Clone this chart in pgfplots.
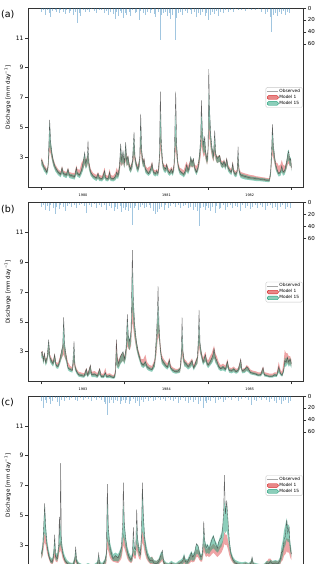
\documentclass[border=0pt]{standalone}
\usepackage{fontspec}
\setmainfont{DejaVu Sans}
\usepackage{pgfplots}
\usepackage{pgfplotstable}
\pgfplotsset{compat=1.18}
\usepgfplotslibrary{fillbetween}

\definecolor{obsline}{RGB}{60,60,60}
\definecolor{mone}{RGB}{214,39,40}
\definecolor{mfif}{RGB}{27,158,119}
\definecolor{rain}{RGB}{31,119,180}

% columns: t = decimal year, o = observed discharge,
% a/b = Model 1 range (low/high), c/d = Model 15 range (low/high)
\pgfplotstableread{
t o a b c d
1980.000 2.80 2.55 2.95 2.45 2.90
1980.016 2.60 2.40 2.80 2.30 2.70
1980.032 2.30 2.15 2.50 2.05 2.40
1980.048 2.20 2.05 2.40 1.95 2.30
1980.064 2.00 1.90 2.20 1.80 2.10
1980.080 2.30 2.10 2.50 2.00 2.45
1980.100 5.50 3.40 4.20 3.80 5.40
1980.112 4.00 3.20 3.80 3.40 4.10
1980.128 3.20 2.80 3.30 2.80 3.40
1980.144 2.70 2.45 2.90 2.40 2.85
1980.168 2.30 2.15 2.50 2.05 2.40
1980.200 2.00 1.90 2.20 1.80 2.10
1980.232 1.85 1.75 2.05 1.65 1.95
1980.248 2.30 1.95 2.40 1.90 2.35
1980.264 1.90 1.80 2.10 1.70 2.00
1980.300 1.80 1.70 2.00 1.60 1.90
1980.320 2.20 1.85 2.30 1.80 2.25
1980.336 1.80 1.70 2.00 1.60 1.90
1980.368 1.75 1.65 1.95 1.55 1.85
1980.400 1.70 1.60 1.95 1.50 1.80
1980.420 2.30 1.90 2.45 1.85 2.35
1980.432 1.90 1.80 2.20 1.70 2.00
1980.460 1.80 1.70 2.15 1.60 1.90
1980.480 2.10 1.95 2.60 1.80 2.20
1980.500 2.60 2.20 2.80 2.10 2.70
1980.520 3.30 2.50 3.00 2.60 3.30
1980.532 2.60 2.30 2.80 2.20 2.70
1980.548 2.90 2.40 3.00 2.35 2.95
1980.560 4.10 2.60 3.20 2.70 3.50
1980.572 2.60 2.20 2.70 2.15 2.60
1980.592 2.00 1.85 2.20 1.75 2.05
1980.620 1.75 1.65 1.95 1.55 1.80
1980.660 1.60 1.50 1.80 1.40 1.65
1980.680 1.90 1.60 2.00 1.55 1.95
1980.696 1.60 1.50 1.80 1.40 1.65
1980.728 1.55 1.45 1.75 1.38 1.60
1980.760 2.10 1.70 2.30 1.60 2.10
1980.772 1.60 1.50 1.80 1.40 1.65
1980.800 1.55 1.45 1.75 1.38 1.60
1980.820 2.00 1.60 2.20 1.55 2.00
1980.832 1.60 1.50 1.80 1.40 1.65
1980.864 1.55 1.45 1.75 1.38 1.60
1980.888 1.70 1.55 1.95 1.45 1.75
1980.904 2.00 1.70 2.30 1.60 2.05
1980.920 1.80 1.65 2.05 1.55 1.85
1980.936 2.30 1.90 2.50 1.85 2.40
1980.952 3.90 2.60 3.40 2.80 3.80
1980.964 2.80 2.40 3.00 2.40 2.90
1980.980 3.40 2.60 3.20 2.70 3.40
1980.996 2.60 2.30 2.80 2.25 2.70
1981.012 4.00 2.80 3.60 3.00 3.90
1981.024 2.80 2.40 3.00 2.40 2.90
1981.040 3.05 2.50 3.10 2.55 3.10
1981.056 2.40 2.15 2.60 2.10 2.50
1981.072 2.20 2.00 2.40 1.95 2.30
1981.092 2.70 2.30 2.80 2.25 2.75
1981.112 4.70 3.00 3.90 3.30 4.50
1981.124 3.00 2.60 3.10 2.60 3.10
1981.144 2.40 2.20 2.60 2.10 2.50
1981.160 2.20 2.05 2.45 1.95 2.30
1981.180 3.00 2.40 3.00 2.40 2.95
1981.192 5.90 3.40 4.40 3.80 5.40
1981.204 3.50 2.80 3.40 2.90 3.50
1981.220 2.60 2.35 2.80 2.30 2.70
1981.232 2.90 2.45 2.95 2.40 2.90
1981.248 2.20 2.05 2.45 1.95 2.30
1981.272 2.00 1.90 2.25 1.80 2.10
1981.288 1.90 1.85 2.35 1.75 2.00
1981.312 2.20 2.00 2.40 1.90 2.25
1981.328 2.60 2.20 2.70 2.15 2.60
1981.344 2.00 1.90 2.20 1.80 2.10
1981.368 1.90 1.80 2.10 1.70 1.95
1981.384 2.10 1.90 2.20 1.80 2.10
1981.400 1.90 1.80 2.10 1.70 1.95
1981.416 3.00 2.30 2.90 2.40 3.00
1981.428 7.40 3.60 4.80 4.20 6.20
1981.440 4.00 3.00 3.70 3.10 3.90
1981.456 2.60 2.30 2.70 2.25 2.65
1981.472 2.30 2.10 2.50 2.00 2.35
1981.492 2.20 2.05 2.45 1.95 2.30
1981.504 2.50 2.20 2.60 2.10 2.55
1981.520 2.10 1.95 2.30 1.85 2.15
1981.540 1.95 1.85 2.15 1.75 2.00
1981.560 2.20 1.95 2.35 1.90 2.25
1981.576 1.95 1.85 2.15 1.75 2.00
1981.592 2.50 2.10 2.60 2.05 2.50
1981.612 7.40 3.50 4.60 4.00 6.00
1981.624 3.80 2.90 3.60 3.00 3.80
1981.640 2.50 2.25 2.70 2.20 2.55
1981.660 2.10 1.95 2.30 1.85 2.15
1981.688 1.95 1.85 2.20 1.75 2.00
1981.708 1.85 1.75 2.10 1.65 1.90
1981.728 2.10 1.90 2.50 1.80 2.15
1981.744 2.50 2.10 2.70 2.05 2.50
1981.760 2.10 1.95 2.40 1.85 2.15
1981.780 2.50 2.20 2.70 2.15 2.55
1981.792 3.00 2.40 2.90 2.50 3.05
1981.808 2.60 2.30 2.75 2.30 2.70
1981.824 2.90 2.40 2.90 2.45 2.95
1981.840 2.30 2.10 2.50 2.05 2.35
1981.860 2.00 1.90 2.40 1.80 2.10
1981.880 2.30 2.10 2.60 2.05 2.40
1981.900 3.30 2.60 3.30 2.80 3.50
1981.912 4.50 3.10 3.90 3.40 4.40
1981.920 6.80 3.80 5.00 4.50 6.10
1981.932 4.80 3.40 4.30 3.70 4.80
1981.948 3.80 3.00 3.70 3.20 3.90
1981.960 4.40 3.20 4.00 3.40 4.30
1981.972 3.30 2.80 3.40 2.90 3.40
1981.988 2.80 2.50 3.00 2.50 2.90
1982.000 3.60 2.80 3.50 2.90 3.60
1982.008 8.90 4.20 5.60 5.00 7.30
1982.020 6.00 4.20 5.30 4.70 6.20
1982.032 4.50 3.50 4.30 3.70 4.60
1982.048 3.60 3.00 3.60 3.10 3.70
1982.064 3.10 2.70 3.20 2.75 3.20
1982.080 4.80 3.20 4.00 3.50 4.50
1982.092 3.20 2.80 3.30 2.85 3.30
1982.108 2.90 2.60 3.05 2.60 3.00
1982.124 3.00 2.65 3.10 2.65 3.05
1982.140 3.10 2.70 3.15 2.70 3.15
1982.156 2.60 2.40 2.80 2.35 2.70
1982.176 2.50 2.30 2.70 2.25 2.60
1982.192 2.70 2.40 2.85 2.40 2.80
1982.208 2.40 2.25 2.60 2.15 2.50
1982.224 2.90 2.45 2.95 2.45 2.90
1982.240 2.30 2.15 2.50 2.05 2.40
1982.260 2.10 2.00 2.30 1.90 2.20
1982.280 2.00 1.90 2.20 1.80 2.10
1982.296 2.60 2.20 2.70 2.20 2.60
1982.308 2.00 1.90 2.20 1.80 2.10
1982.328 1.85 1.75 2.05 1.65 1.95
1982.348 2.00 1.85 2.15 1.75 2.05
1982.360 3.70 2.40 3.00 2.50 3.30
1982.372 2.10 1.95 2.30 1.85 2.20
1982.392 1.80 1.70 2.00 1.60 1.90
1982.420 1.75 1.65 1.95 1.55 1.85
1982.448 1.70 1.60 1.90 1.50 1.80
1982.480 1.65 1.55 1.85 1.48 1.75
1982.512 1.60 1.52 1.80 1.45 1.70
1982.544 1.60 1.50 1.78 1.43 1.68
1982.576 1.55 1.48 1.72 1.40 1.65
1982.608 1.55 1.46 1.70 1.40 1.62
1982.640 1.50 1.44 1.66 1.38 1.60
1982.672 1.50 1.42 1.64 1.36 1.58
1982.704 1.45 1.40 1.60 1.34 1.55
1982.736 1.45 1.38 1.58 1.32 1.52
1982.752 2.20 1.70 2.10 1.75 2.20
1982.764 3.80 2.60 3.30 2.80 3.70
1982.772 5.20 3.20 4.20 3.70 4.90
1982.784 3.80 2.90 3.60 3.10 3.80
1982.800 3.00 2.50 3.00 2.55 3.00
1982.812 2.50 2.20 2.65 2.15 2.50
1982.832 2.10 1.95 2.60 1.85 2.15
1982.848 1.90 1.85 2.40 1.70 1.95
1982.868 2.00 1.90 2.50 1.75 2.05
1982.884 2.40 2.10 2.80 2.00 2.45
1982.900 2.00 1.90 2.50 1.75 2.05
1982.920 2.10 1.95 2.40 1.85 2.20
1982.940 2.60 2.20 2.70 2.20 2.70
1982.956 3.20 2.50 3.10 2.70 3.40
1982.968 3.40 2.60 3.20 2.80 3.50
1982.980 2.80 2.40 2.90 2.40 2.90
1982.992 2.90 2.40 2.80 2.40 3.00
1983.000 2.30 2.10 2.50 2.05 2.40
}\qA

\pgfplotstableread{
t o a b c d
1983.000 2.90 2.70 3.00 2.55 2.95
1983.012 3.00 2.70 3.05 2.60 3.00
1983.024 2.40 2.25 2.60 2.15 2.50
1983.036 2.90 2.55 2.95 2.50 2.90
1983.052 2.30 2.15 2.50 2.05 2.40
1983.068 2.60 2.30 2.65 2.25 2.60
1983.088 3.80 2.90 3.50 2.90 3.70
1983.104 2.60 2.40 2.80 2.30 2.65
1983.120 2.40 2.25 2.60 2.15 2.50
1983.140 2.20 2.10 2.40 2.00 2.30
1983.160 2.80 2.40 2.90 2.35 2.85
1983.176 2.10 2.00 2.30 1.90 2.20
1983.200 2.00 1.95 2.25 1.85 2.10
1983.220 2.40 2.20 2.60 2.10 2.45
1983.240 3.00 2.50 3.00 2.50 3.00
1983.256 3.40 2.70 3.40 2.80 3.40
1983.268 5.30 2.80 3.60 3.40 5.00
1983.280 3.50 2.60 3.30 2.70 3.50
1983.296 2.80 2.40 2.90 2.35 2.80
1983.320 1.90 1.90 2.30 1.75 2.00
1983.344 1.80 1.75 2.05 1.65 1.90
1983.372 1.75 1.70 1.95 1.60 1.85
1983.392 3.70 2.20 2.90 2.40 3.40
1983.404 2.00 1.80 2.20 1.75 2.10
1983.424 1.65 1.60 1.85 1.50 1.75
1983.448 1.45 1.40 1.65 1.32 1.55
1983.480 1.40 1.35 1.60 1.28 1.50
1983.512 1.35 1.32 1.55 1.25 1.45
1983.540 1.85 1.50 1.90 1.45 1.85
1983.556 1.40 1.35 1.60 1.28 1.50
1983.588 2.10 1.60 2.10 1.55 2.05
1983.604 1.45 1.40 1.65 1.30 1.55
1983.640 1.50 1.40 1.70 1.30 1.55
1983.672 1.35 1.30 1.55 1.24 1.45
1983.700 1.85 1.50 1.90 1.45 1.85
1983.716 1.35 1.30 1.55 1.24 1.45
1983.744 1.30 1.28 1.50 1.22 1.40
1983.768 1.60 1.50 1.90 1.35 1.60
1983.784 1.30 1.28 1.50 1.22 1.40
1983.820 1.40 1.30 1.55 1.24 1.45
1983.848 1.28 1.26 1.45 1.20 1.38
1983.872 1.25 1.24 1.45 1.18 1.36
1983.888 1.60 1.40 1.80 1.30 1.60
1983.900 3.80 2.20 3.80 2.20 3.20
1983.912 2.50 2.00 2.70 1.90 2.50
1983.928 2.20 1.95 2.40 1.85 2.25
1983.944 2.60 2.20 2.70 2.10 2.60
1983.960 2.80 2.30 2.85 2.25 2.80
1983.980 3.00 2.40 2.95 2.40 3.00
1983.996 2.50 2.25 2.70 2.15 2.55
1984.016 3.20 2.60 3.20 2.60 3.30
1984.032 5.50 3.40 4.40 3.80 5.20
1984.044 4.00 3.20 3.90 3.30 4.10
1984.060 3.70 3.10 3.70 3.10 3.80
1984.076 4.40 3.40 4.20 3.60 4.50
1984.092 9.80 5.00 6.60 6.00 8.60
1984.104 6.50 4.50 5.80 5.00 6.50
1984.120 4.80 3.80 4.60 4.00 4.90
1984.140 3.70 3.20 3.80 3.20 3.80
1984.160 3.00 2.75 3.20 2.70 3.10
1984.184 2.50 2.35 2.75 2.25 2.60
1984.200 2.20 2.10 2.50 2.00 2.30
1984.224 2.10 2.00 2.50 1.90 2.20
1984.248 2.30 2.10 2.80 2.05 2.40
1984.268 2.00 1.90 2.30 1.80 2.10
1984.296 1.85 1.80 2.10 1.70 1.95
1984.328 1.80 1.75 2.05 1.65 1.90
1984.360 2.30 2.00 2.50 1.95 2.35
1984.380 4.10 2.80 3.80 3.00 3.90
1984.392 5.50 3.60 4.80 3.90 5.20
1984.400 7.40 4.00 5.20 4.40 6.40
1984.412 4.80 3.80 4.60 3.90 4.80
1984.428 3.20 2.90 3.50 2.85 3.30
1984.444 2.50 2.30 2.80 2.20 2.60
1984.464 2.30 2.15 2.55 2.05 2.40
1984.488 2.10 2.00 2.35 1.90 2.20
1984.512 1.95 1.90 2.20 1.80 2.05
1984.536 2.45 2.10 2.60 2.00 2.45
1984.552 1.90 1.85 2.10 1.75 1.95
1984.576 1.75 1.70 1.95 1.60 1.85
1984.608 1.65 1.60 1.85 1.52 1.75
1984.640 1.70 1.60 1.85 1.55 1.80
1984.664 1.85 1.65 1.95 1.60 1.90
1984.680 3.00 2.20 2.80 2.30 3.00
1984.688 5.30 2.80 3.60 3.20 4.60
1984.700 3.00 2.40 3.00 2.40 3.00
1984.716 2.30 2.10 2.50 2.00 2.35
1984.736 2.20 2.05 2.40 1.95 2.30
1984.760 2.00 1.90 2.20 1.80 2.10
1984.784 2.15 2.00 2.35 1.90 2.25
1984.808 2.40 2.15 2.55 2.05 2.45
1984.828 1.90 1.85 2.10 1.75 1.95
1984.852 2.30 2.05 2.45 2.00 2.35
1984.872 2.60 2.20 2.70 2.20 2.65
1984.884 4.00 2.80 3.60 3.00 3.90
1984.892 5.80 3.30 4.30 3.70 5.10
1984.904 3.60 2.90 3.50 3.00 3.60
1984.920 2.90 2.60 3.00 2.55 2.95
1984.940 2.30 2.20 2.60 2.10 2.40
1984.968 2.80 2.40 3.00 2.35 2.80
1984.984 2.30 2.15 2.55 2.05 2.40
1985.000 2.10 2.00 2.40 1.90 2.20
1985.024 2.30 2.15 2.70 2.05 2.40
1985.044 2.55 2.30 2.90 2.20 2.60
1985.060 2.80 2.50 3.20 2.35 2.85
1985.072 3.20 2.60 3.40 2.60 3.20
1985.088 2.60 2.35 2.90 2.25 2.65
1985.104 2.40 2.20 2.70 2.10 2.45
1985.128 2.00 1.90 2.30 1.80 2.10
1985.152 1.85 1.80 2.10 1.70 1.95
1985.180 2.00 1.85 2.20 1.75 2.05
1985.208 1.80 1.75 2.05 1.65 1.90
1985.232 2.35 2.00 2.50 1.95 2.35
1985.252 1.75 1.70 1.95 1.60 1.85
1985.280 1.70 1.65 1.90 1.55 1.80
1985.308 1.85 1.70 2.00 1.62 1.90
1985.336 1.65 1.60 1.85 1.52 1.75
1985.360 1.75 1.65 1.90 1.58 1.82
1985.392 2.50 2.00 2.50 1.95 2.40
1985.408 1.70 1.62 1.85 1.55 1.78
1985.440 1.80 1.65 1.90 1.58 1.85
1985.464 2.00 1.75 2.10 1.70 2.00
1985.484 1.85 1.70 2.00 1.62 1.90
1985.508 1.60 1.55 1.80 1.48 1.68
1985.540 1.55 1.50 1.72 1.44 1.62
1985.572 1.50 1.45 1.68 1.40 1.58
1985.600 1.42 1.40 1.62 1.34 1.50
1985.632 1.45 1.40 1.62 1.34 1.52
1985.660 1.95 1.60 2.00 1.55 1.90
1985.676 1.45 1.40 1.62 1.34 1.52
1985.708 1.38 1.36 1.58 1.30 1.45
1985.740 1.32 1.32 1.52 1.26 1.40
1985.772 1.35 1.32 1.52 1.26 1.42
1985.800 1.45 1.38 1.62 1.32 1.52
1985.824 1.40 1.36 1.60 1.30 1.48
1985.848 2.00 1.70 2.30 1.60 1.95
1985.868 1.55 1.50 1.80 1.42 1.62
1985.888 1.40 1.38 1.65 1.32 1.48
1985.908 1.80 1.70 2.40 1.60 1.90
1985.920 2.40 2.20 3.10 2.00 2.60
1985.936 2.30 2.20 2.90 2.00 2.50
1985.952 2.60 2.30 2.90 2.20 2.70
1985.968 2.30 2.10 2.70 2.00 2.40
1985.984 2.50 2.20 2.70 2.10 2.60
1986.000 2.20 2.00 2.45 1.90 2.30
}\qB

\pgfplotstableread{
t o a b c d
1986.000 2.40 2.10 2.50 2.10 2.60
1986.016 2.80 2.30 2.80 2.40 3.10
1986.028 4.20 2.80 3.40 3.20 4.40
1986.040 5.80 3.20 3.90 3.90 5.70
1986.052 4.20 3.00 3.60 3.50 4.50
1986.068 3.00 2.50 3.00 2.80 3.40
1986.088 2.30 2.10 2.50 2.20 2.70
1986.108 1.95 1.80 2.10 1.85 2.20
1986.132 1.85 1.70 2.00 1.75 2.10
1986.148 2.40 1.90 2.40 2.10 2.70
1986.160 3.70 2.20 2.80 2.60 3.50
1986.172 2.20 1.90 2.30 2.00 2.50
1986.192 2.10 1.85 2.30 1.95 2.40
1986.208 3.00 2.20 2.80 2.40 3.10
1986.216 4.90 2.60 3.20 3.00 4.20
1986.224 3.50 2.50 3.00 2.80 3.60
1986.232 8.50 2.70 3.30 3.10 4.50
1986.240 3.40 2.50 3.10 2.80 3.50
1986.256 2.50 2.10 2.50 2.30 2.80
1986.280 2.00 1.80 2.10 1.90 2.30
1986.308 1.80 1.65 1.90 1.70 2.00
1986.340 1.65 1.55 1.80 1.60 1.85
1986.376 1.60 1.50 1.75 1.55 1.80
1986.400 2.00 1.70 2.10 1.75 2.20
1986.412 2.90 1.90 2.40 2.10 2.70
1986.424 1.90 1.70 2.00 1.75 2.10
1986.448 1.65 1.55 1.80 1.58 1.85
1986.480 1.55 1.45 1.70 1.50 1.75
1986.520 1.50 1.42 1.65 1.45 1.70
1986.560 1.60 1.45 1.75 1.50 1.80
1986.600 1.50 1.40 1.65 1.45 1.70
1986.640 1.55 1.42 1.70 1.47 1.75
1986.672 1.70 1.50 1.80 1.55 1.90
1986.688 2.45 1.70 2.10 1.80 2.30
1986.700 1.75 1.55 1.85 1.60 1.95
1986.728 1.60 1.48 1.72 1.52 1.80
1986.760 1.90 1.60 1.95 1.65 2.05
1986.780 2.40 1.80 2.30 1.95 2.60
1986.792 7.10 2.80 3.60 3.40 6.20
1986.804 4.20 2.60 3.30 3.00 4.30
1986.820 3.00 2.20 2.80 2.50 3.30
1986.840 2.50 2.00 2.50 2.20 2.80
1986.860 2.10 1.90 2.10 1.95 2.40
1986.888 2.30 1.85 2.30 1.95 2.50
1986.920 2.15 1.80 2.20 1.90 2.40
1986.944 2.50 1.95 2.50 2.10 2.70
1986.960 2.80 2.10 2.70 2.30 3.00
1986.976 4.50 2.60 3.30 3.10 4.20
1986.984 7.20 3.00 3.80 3.60 5.90
1986.996 4.40 2.80 3.50 3.30 4.60
1987.012 3.40 2.50 3.10 2.80 3.60
1987.032 2.60 2.10 2.60 2.30 2.90
1987.052 2.20 1.90 2.30 2.00 2.50
1987.076 2.00 1.80 2.10 1.85 2.25
1987.092 2.30 1.90 2.30 2.00 2.50
1987.104 4.20 2.30 2.80 2.60 3.60
1987.116 2.80 2.10 2.60 2.30 2.90
1987.132 2.70 2.10 2.60 2.30 2.90
1987.144 5.40 2.70 3.40 3.20 4.60
1987.156 3.40 2.40 3.00 2.70 3.50
1987.172 2.60 2.10 2.60 2.30 2.90
1987.188 2.40 2.00 2.50 2.20 2.80
1987.200 3.50 2.40 3.00 2.80 3.70
1987.212 7.20 3.20 4.00 4.00 6.80
1987.224 5.00 3.00 3.70 3.60 5.20
1987.240 3.40 2.50 3.10 2.90 3.70
1987.260 2.60 2.10 2.60 2.30 3.00
1987.280 2.20 1.90 2.30 2.00 2.50
1987.304 1.95 1.75 2.10 1.80 2.20
1987.328 2.00 1.75 2.25 1.80 2.20
1987.352 1.80 1.65 1.95 1.70 2.00
1987.384 1.75 1.62 1.95 1.65 1.95
1987.408 1.90 1.70 2.05 1.75 2.10
1987.432 2.30 1.85 2.30 1.95 2.50
1987.452 2.65 1.95 2.40 2.10 2.60
1987.468 1.85 1.65 1.95 1.70 2.05
1987.496 1.65 1.55 1.80 1.58 1.85
1987.528 1.60 1.50 1.75 1.55 1.80
1987.560 1.80 1.58 1.85 1.62 1.95
1987.584 1.65 1.52 1.78 1.55 1.85
1987.616 1.60 1.50 1.75 1.52 1.80
1987.648 1.75 1.55 1.85 1.60 1.95
1987.680 1.85 1.60 1.95 1.65 2.05
1987.700 2.00 1.70 2.05 1.75 2.20
1987.712 2.30 1.80 2.25 1.90 2.45
1987.728 1.90 1.65 2.00 1.75 2.10
1987.752 1.85 1.65 2.00 1.70 2.05
1987.780 2.20 1.80 2.20 1.90 2.40
1987.800 2.50 1.90 2.40 2.05 2.60
1987.816 2.20 1.85 2.25 1.95 2.40
1987.836 2.40 1.90 2.40 2.00 2.55
1987.860 3.10 2.20 2.70 2.40 3.10
1987.880 2.95 2.20 2.70 2.40 3.00
1987.896 2.50 2.00 2.50 2.20 2.70
1987.912 2.20 1.90 2.30 2.00 2.40
1987.928 2.30 1.90 2.30 2.00 2.45
1987.940 3.20 2.20 2.80 2.50 3.30
1987.948 4.60 2.60 3.20 3.00 4.20
1987.960 3.30 2.40 3.00 2.70 3.40
1987.976 2.80 2.20 2.70 2.40 3.00
1987.992 3.00 2.30 2.80 2.50 3.10
1988.012 2.70 2.20 2.70 2.40 2.90
1988.032 3.10 2.30 2.90 2.60 3.30
1988.048 3.40 2.40 3.00 2.70 3.50
1988.064 3.60 2.50 3.10 2.80 3.70
1988.080 3.30 2.40 3.00 2.70 3.40
1988.096 3.00 2.30 2.90 2.60 3.20
1988.112 2.80 2.20 2.80 2.50 3.00
1988.128 3.20 2.30 2.90 2.60 3.30
1988.144 3.40 2.40 3.00 2.80 3.60
1988.160 3.50 2.50 3.10 2.90 3.80
1988.176 4.20 2.70 3.30 3.20 4.40
1988.188 5.50 2.90 3.60 3.60 5.20
1988.196 7.70 3.10 3.90 4.00 6.00
1988.208 5.10 3.00 3.70 3.80 5.40
1988.224 6.00 3.00 3.70 4.00 5.80
1988.240 4.60 2.70 3.30 3.40 4.60
1988.256 3.20 2.30 2.90 2.70 3.40
1988.276 2.40 2.00 2.40 2.20 2.60
1988.300 2.00 1.80 2.10 1.85 2.20
1988.328 1.80 1.65 1.90 1.70 2.00
1988.368 1.70 1.55 1.80 1.60 1.90
1988.408 1.65 1.50 1.75 1.55 1.85
1988.448 1.75 1.55 1.85 1.58 1.90
1988.488 1.65 1.50 1.75 1.55 1.80
1988.516 1.80 1.55 1.90 1.60 1.95
1988.528 2.20 1.70 2.10 1.75 2.20
1988.544 1.70 1.52 1.80 1.55 1.85
1988.584 1.60 1.48 1.72 1.50 1.78
1988.632 1.55 1.45 1.68 1.48 1.72
1988.672 1.60 1.46 1.72 1.50 1.75
1988.704 1.80 1.55 1.90 1.58 1.95
1988.728 1.75 1.60 2.10 1.55 1.90
1988.748 1.90 1.70 2.10 1.65 2.00
1988.772 1.75 1.55 1.90 1.58 1.95
1988.808 1.80 1.58 1.95 1.62 2.00
1988.840 1.75 1.55 1.90 1.58 1.95
1988.864 2.00 1.70 2.10 1.75 2.20
1988.880 2.50 1.90 2.60 2.00 2.90
1988.896 2.60 2.00 2.80 2.30 3.30
1988.912 3.40 2.30 3.20 2.80 4.00
1988.928 3.60 2.40 3.30 3.00 4.40
1988.944 4.70 2.60 3.50 3.40 4.80
1988.956 3.80 2.50 3.40 3.20 4.30
1988.972 4.20 2.50 3.40 3.20 4.40
1988.984 3.00 2.20 2.90 2.60 3.30
1989.000 2.40 2.00 2.50 2.20 2.70
}\qC

% daily precipitation totals [mm], t = decimal year
\pgfplotstableread{
t p
1980.00 6
1980.02 3
1980.05 12
1980.07 4
1980.09 8
1980.11 15
1980.13 5
1980.16 3
1980.18 7
1980.21 9
1980.23 4
1980.26 6
1980.28 10
1980.30 3
1980.33 8
1980.35 5
1980.38 11
1980.40 6
1980.43 25
1980.45 9
1980.47 14
1980.50 4
1980.52 7
1980.55 3
1980.57 6
1980.60 2
1980.63 5
1980.66 8
1980.69 3
1980.72 4
1980.75 9
1980.78 5
1980.80 12
1980.83 6
1980.86 10
1980.88 18
1980.90 7
1980.92 13
1980.94 5
1980.96 9
1980.98 16
1981.00 8
1981.02 11
1981.05 6
1981.07 14
1981.09 4
1981.12 9
1981.14 7
1981.17 20
1981.19 5
1981.22 8
1981.24 12
1981.27 6
1981.30 9
1981.32 4
1981.35 10
1981.37 15
1981.40 7
1981.42 53
1981.44 12
1981.46 9
1981.48 6
1981.51 14
1981.53 8
1981.55 18
1981.57 11
1981.60 53
1981.62 16
1981.64 9
1981.67 7
1981.69 12
1981.72 5
1981.75 8
1981.78 4
1981.80 10
1981.83 6
1981.86 15
1981.88 8
1981.91 11
1981.93 6
1981.96 13
1981.98 9
1982.00 20
1982.02 12
1982.05 7
1982.07 10
1982.10 5
1982.12 14
1982.15 6
1982.18 9
1982.21 4
1982.24 7
1982.27 3
1982.30 6
1982.33 2
1982.36 4
1982.40 3
1982.44 5
1982.48 2
1982.52 3
1982.56 4
1982.60 2
1982.64 6
1982.68 10
1982.71 7
1982.74 15
1982.76 40
1982.78 12
1982.80 8
1982.83 14
1982.85 6
1982.88 10
1982.90 5
1982.93 12
1982.95 7
1982.97 9
}\pA

\pgfplotstableread{
t p
1983.00 8
1983.02 5
1983.04 12
1983.07 6
1983.09 15
1983.11 4
1983.14 9
1983.16 20
1983.18 7
1983.21 11
1983.23 5
1983.26 8
1983.28 14
1983.31 6
1983.33 3
1983.36 7
1983.39 4
1983.42 9
1983.45 5
1983.48 3
1983.51 6
1983.54 18
1983.57 4
1983.60 8
1983.63 3
1983.66 10
1983.69 5
1983.72 7
1983.75 4
1983.78 12
1983.81 6
1983.84 9
1983.87 14
1983.89 8
1983.91 11
1983.94 6
1983.96 16
1983.98 9
1984.00 12
1984.02 7
1984.04 15
1984.06 9
1984.09 37
1984.11 10
1984.13 6
1984.16 12
1984.18 8
1984.21 5
1984.23 10
1984.26 7
1984.29 4
1984.31 9
1984.34 14
1984.36 20
1984.37 18
1984.39 16
1984.41 11
1984.44 7
1984.47 12
1984.49 5
1984.52 9
1984.55 6
1984.58 3
1984.61 8
1984.64 5
1984.67 10
1984.70 6
1984.73 4
1984.76 9
1984.79 7
1984.82 12
1984.85 8
1984.87 15
1984.89 40
1984.91 10
1984.94 7
1984.96 13
1984.98 6
1985.00 10
1985.03 14
1985.05 8
1985.08 18
1985.10 6
1985.13 11
1985.15 9
1985.18 5
1985.20 12
1985.23 7
1985.26 4
1985.29 10
1985.32 6
1985.35 8
1985.38 14
1985.41 5
1985.44 9
1985.47 6
1985.50 11
1985.53 7
1985.56 4
1985.59 9
1985.62 5
1985.65 8
1985.68 12
1985.71 6
1985.74 4
1985.77 10
1985.80 7
1985.83 13
1985.86 8
1985.89 5
1985.92 11
1985.95 7
1985.98 9
}\pB

\pgfplotstableread{
t p
1986.00 9
1986.02 20
1986.04 7
1986.06 12
1986.09 5
1986.11 14
1986.13 8
1986.16 4
1986.19 10
1986.21 16
1986.24 6
1986.27 9
1986.30 4
1986.33 7
1986.36 3
1986.40 6
1986.43 9
1986.46 4
1986.50 7
1986.53 3
1986.56 5
1986.60 8
1986.63 4
1986.66 6
1986.69 3
1986.72 7
1986.75 10
1986.77 14
1986.79 32
1986.81 11
1986.84 7
1986.86 12
1986.88 6
1986.91 9
1986.94 13
1986.96 8
1986.98 6
1987.00 11
1987.02 7
1987.05 14
1987.07 9
1987.10 5
1987.12 12
1987.15 8
1987.17 16
1987.20 6
1987.22 10
1987.25 5
1987.28 8
1987.31 4
1987.34 9
1987.37 6
1987.40 3
1987.43 7
1987.46 5
1987.49 8
1987.52 4
1987.55 6
1987.58 9
1987.61 5
1987.64 11
1987.67 7
1987.70 4
1987.73 8
1987.76 12
1987.79 6
1987.82 10
1987.85 7
1987.88 13
1987.91 9
1987.94 20
1987.96 8
1987.98 11
1988.00 6
1988.03 9
1988.06 4
1988.09 12
1988.12 7
1988.15 5
1988.18 10
1988.21 6
1988.24 3
1988.28 7
1988.32 4
1988.36 8
1988.40 5
1988.44 3
1988.48 6
1988.52 15
1988.55 6
1988.58 9
1988.61 4
1988.64 7
1988.67 3
1988.70 6
1988.73 10
1988.76 5
1988.79 8
1988.82 12
1988.85 7
1988.88 14
1988.90 9
1988.93 6
1988.96 11
1988.98 8
}\pC

\pgfplotsset{
  panelbox/.style={
    width=275.5pt, height=179pt, scale only axis,
    anchor=north west,
  },
  qaxis/.style={
    panelbox,
    ymin=1, ymax=13, ytick={3,5,7,9,11},
    /pgf/number format/assume math mode=true,
    tick align=outside, major tick length=2.8pt,
    xtick pos=left, ytick pos=left,
    axis line style={black!80, line width=0.45pt},
    every tick/.style={black!80, line width=0.45pt},
    y tick label style={font=\fontsize{6}{7}\selectfont, inner sep=1.5pt},
    x tick label style={font=\fontsize{3.4}{4}\selectfont},
    xticklabels={},
    extra x tick style={major tick length=0pt, tick label style={yshift=-3.2pt}},
    ylabel={Discharge [mm day\textsuperscript{\char"2212 1}]},
    every axis y label/.style={at={(axis description cs:-0.073,0.5)},
      rotate=90, anchor=center, font=\fontsize{5.6}{6.5}\selectfont},
    legend style={at={(0.996,0.5)}, anchor=east,
      font=\fontsize{4.3}{5}\selectfont, draw=black!22, fill=white,
      rounded corners=1.2pt, inner xsep=1.2pt, inner ysep=0.8pt,
      row sep=-0.6pt, nodes={inner sep=0.9pt}},
    legend cell align=left,
  },
  paxis/.style={
    panelbox,
    ymin=0, ymax=300, y dir=reverse,
    axis x line=none, axis y line*=right,
    ytick={0,20,40,60},
    /pgf/number format/assume math mode=true,
    tick align=outside, major tick length=2.8pt,
    axis line style={black!80, line width=0.45pt},
    every tick/.style={black!80, line width=0.45pt},
    y tick label style={font=\fontsize{5.5}{6.5}\selectfont, inner sep=1.5pt},
  },
  obsplot/.style={obsline, line width=0.35pt, opacity=0.8, forget plot},
  edge/.style={draw=none, forget plot},
  bandone/.style={fill=mone, fill opacity=0.42, draw=none, forget plot},
  bandfif/.style={fill=mfif, fill opacity=0.5, draw=none, forget plot},
  rainbar/.style={ycomb, rain, line width=0.25pt, opacity=0.42, mark=none, forget plot},
}

\newcommand{\legendset}{%
  \addlegendimage{legend image code/.code={\draw[obsline!45, line width=0.4pt] (0pt,0pt) -- (11pt,0pt);}}
  \addlegendentry{Observed}
  \addlegendimage{legend image code/.code={\fill[mone, fill opacity=0.55] (0pt,-1.8pt) rectangle (11pt,1.8pt);}}
  \addlegendentry{Model 1}
  \addlegendimage{legend image code/.code={\fill[mfif, fill opacity=0.5] (0pt,-1.8pt) rectangle (11pt,1.8pt);}}
  \addlegendentry{Model 15}
}

\begin{document}
\begin{tikzpicture}[x=1pt,y=1pt]

% ---------------- (a) ----------------
\begin{axis}[qaxis, at={(28pt,-8pt)},
  xmin=1979.84, xmax=1983.145, xtick={1980,1981,1982,1983},
  extra x ticks={1980.5,1981.5,1982.5}, extra x tick labels={1980,1981,1982}]
  \legendset
  \addplot[edge, name path=aAlo] table[x=t,y=a]{\qA};
  \addplot[edge, name path=aAhi] table[x=t,y=b]{\qA};
  \addplot[bandone] fill between[of=aAlo and aAhi];
  \addplot[edge, name path=aBlo] table[x=t,y=c]{\qA};
  \addplot[edge, name path=aBhi] table[x=t,y=d]{\qA};
  \addplot[bandfif] fill between[of=aBlo and aBhi];
  \addplot[obsplot] table[x=t,y=o]{\qA};
\end{axis}
\begin{axis}[paxis, at={(28pt,-8pt)}, xmin=1979.84, xmax=1983.145]
  \addplot[rainbar] table[x=t,y=p]{\pA};
\end{axis}

% ---------------- (b) ----------------
\begin{axis}[qaxis, at={(28pt,-202.5pt)},
  xmin=1982.84, xmax=1986.145, xtick={1983,1984,1985,1986},
  extra x ticks={1983.5,1984.5,1985.5}, extra x tick labels={1983,1984,1985}]
  \legendset
  \addplot[edge, name path=bAlo] table[x=t,y=a]{\qB};
  \addplot[edge, name path=bAhi] table[x=t,y=b]{\qB};
  \addplot[bandone] fill between[of=bAlo and bAhi];
  \addplot[edge, name path=bBlo] table[x=t,y=c]{\qB};
  \addplot[edge, name path=bBhi] table[x=t,y=d]{\qB};
  \addplot[bandfif] fill between[of=bBlo and bBhi];
  \addplot[obsplot] table[x=t,y=o]{\qB};
\end{axis}
\begin{axis}[paxis, at={(28pt,-202.5pt)}, xmin=1982.84, xmax=1986.145]
  \addplot[rainbar] table[x=t,y=p]{\pB};
\end{axis}

% ---------------- (c) ----------------
% its lower edge and year labels fall below the trimmed figure border
\begin{axis}[qaxis, at={(28pt,-396pt)},
  xmin=1985.84, xmax=1989.145, xtick={1986,1987,1988,1989}]
  \legendset
  \addplot[edge, name path=cAlo] table[x=t,y=a]{\qC};
  \addplot[edge, name path=cAhi] table[x=t,y=b]{\qC};
  \addplot[bandone] fill between[of=cAlo and cAhi];
  \addplot[edge, name path=cBlo] table[x=t,y=c]{\qC};
  \addplot[edge, name path=cBhi] table[x=t,y=d]{\qC};
  \addplot[bandfif] fill between[of=cBlo and cBhi];
  \addplot[obsplot] table[x=t,y=o]{\qC};
\end{axis}
\begin{axis}[paxis, at={(28pt,-396pt)}, xmin=1985.84, xmax=1989.145]
  \addplot[rainbar] table[x=t,y=p]{\pC};
\end{axis}

% panel letters
\node[anchor=west, font=\fontsize{9.5}{11}\selectfont, inner sep=0pt] at (1,-15) {(a)};
\node[anchor=west, font=\fontsize{9.5}{11}\selectfont, inner sep=0pt] at (1,-209.5) {(b)};
\node[anchor=west, font=\fontsize{9.5}{11}\selectfont, inner sep=0pt] at (1,-403) {(c)};

% the figure is trimmed just below the middle of panel (c)
\pgfresetboundingbox
\useasboundingbox (0,0) rectangle (315,-564);
\end{tikzpicture}
\end{document}
